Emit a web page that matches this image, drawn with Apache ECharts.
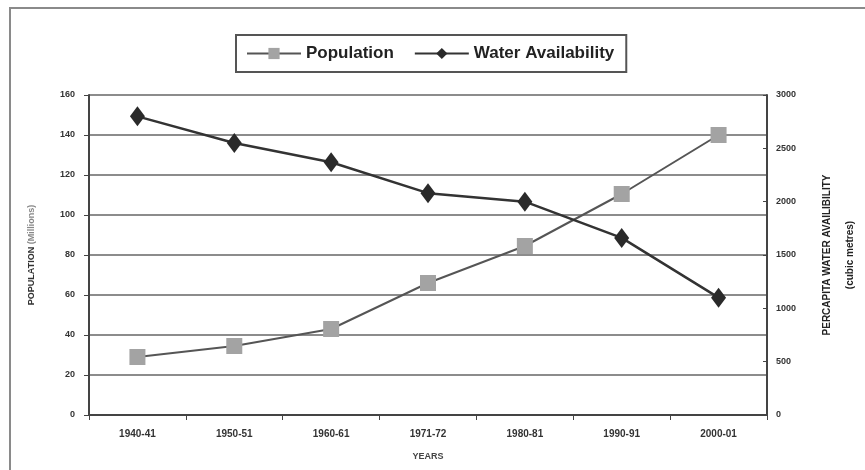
<!DOCTYPE html>
<html><head><meta charset="utf-8">
<script src="https://cdn.jsdelivr.net/npm/echarts@6/dist/echarts.min.js"></script>
<style>html,body{margin:0;padding:0;background:#fff}#c{width:865px;height:470px}</style>
</head><body><div id="c"></div>
<script>
var categories = ['1940-41','1950-51','1960-61','1971-72','1980-81','1990-91','2000-01'];
var population = [29, 34.5, 43, 66, 84.5, 110.5, 140];
var water = [2800, 2550, 2370, 2080, 2000, 1660, 1100];
var leftTicks = [0,20,40,60,80,100,120,140,160];
var rightTicks = [0,500,1000,1500,2000,2500,3000];

var chart = echarts.init(document.getElementById('c'));
var font = 'Liberation Sans, Arial, sans-serif';
chart.setOption({
  animation: false,
  textStyle: {fontFamily: font},
  graphic: [{
    type: 'rect', shape: {x: 10, y: 8, width: 880, height: 500},
    style: {fill: 'none', stroke: '#8a8a8a', lineWidth: 2}, silent: true
  }],
  legend: {
    top: 35, left: 236,
    data: ['Population','Water Availability'],
    borderColor: '#555', borderWidth: 2, padding: [10, 12, 10, 10],
    itemWidth: 54, itemHeight: 14, itemGap: 20,
    textStyle: {fontSize: 17, fontWeight: 'bold', color: '#222', fontFamily: font}
  },
  grid: {left: 89, right: 98, top: 95, bottom: 55, outerBoundsMode: 'none'},
  xAxis: {
    type: 'category', data: categories, boundaryGap: true,
    name: 'YEARS', nameLocation: 'middle', nameGap: 37,
    nameTextStyle: {fontSize: 9, fontWeight: 'bold', color: '#444'},
    axisLine: {lineStyle: {color: '#444', width: 2}},
    axisTick: {show: true, length: 5, lineStyle: {color: '#444'}},
    axisLabel: {fontSize: 10, fontWeight: 'bold', color: '#333', margin: 14}
  },
  yAxis: [{
    type: 'value', min: 0, max: 160, interval: 20,
    name: '{a|POPULATION} {b|(Millions)}', nameLocation: 'middle', nameGap: 53, nameRotate: 90,
    nameTextStyle: {fontSize: 9, fontWeight: 'bold', color: '#444',
      rich: {a: {fontSize: 9, fontWeight: 'bold', color: '#333'}, b: {fontSize: 9, fontWeight: 'bold', color: '#888'}}},
    axisLine: {show: true, lineStyle: {color: '#444', width: 2}},
    axisTick: {show: true, length: 5, lineStyle: {color: '#444'}},
    axisLabel: {fontSize: 9, fontWeight: 'bold', color: '#333', margin: 14},
    splitLine: {show: true, lineStyle: {color: '#666', width: 1.5}}
  }, {
    type: 'value', min: 0, max: 3000, interval: 500, position: 'right',
    name: 'PERCAPITA WATER AVAILIBILITY\n(cubic metres)', nameLocation: 'middle', nameGap: 49, nameRotate: 90,
    nameTextStyle: {fontSize: 10, fontWeight: 'bold', color: '#222', lineHeight: 23},
    axisLine: {show: true, lineStyle: {color: '#444', width: 2}},
    axisTick: {show: true, inside: true, length: 4, lineStyle: {color: '#444'}},
    axisLabel: {fontSize: 9, fontWeight: 'bold', color: '#333', margin: 9, formatter: function (v) { return String(v); }},
    splitLine: {show: false}
  }],
  series: [{
    name: 'Population', type: 'line', yAxisIndex: 0, data: population,
    symbol: 'rect', symbolSize: 16,
    itemStyle: {color: '#a3a3a3'},
    lineStyle: {color: '#555', width: 2}
  }, {
    name: 'Water Availability', type: 'line', yAxisIndex: 1, data: water,
    symbol: 'diamond', symbolSize: [15, 20],
    itemStyle: {color: '#2a2a2a'},
    lineStyle: {color: '#333', width: 2.5}
  }]
});
</script></body></html>
